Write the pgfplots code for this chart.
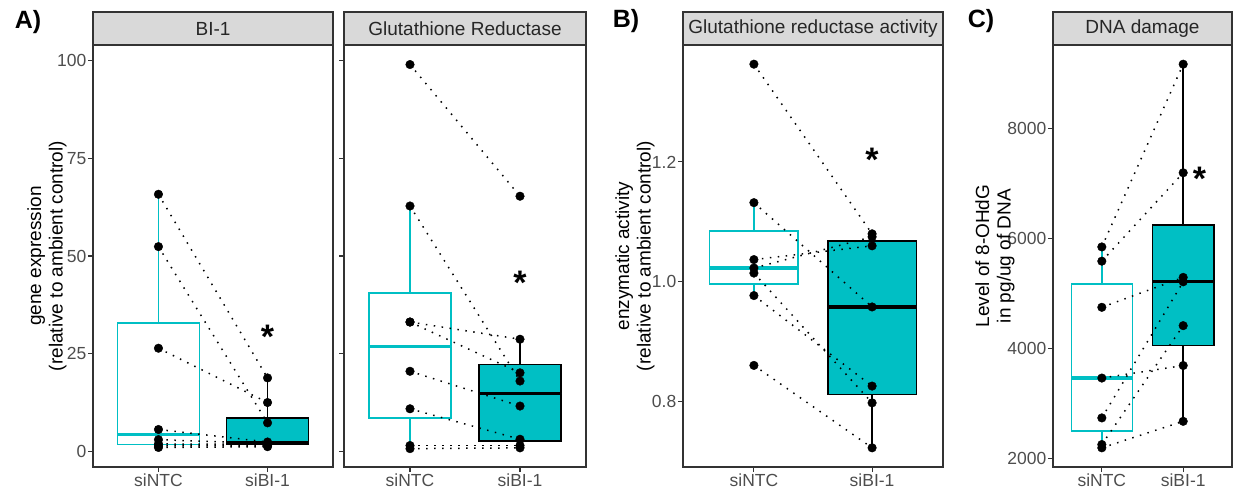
\documentclass[border=0pt]{standalone}
\usepackage{fontspec}
\setmainfont{Liberation Sans}
\usepackage{pgfplots}
\pgfplotsset{compat=1.18}
\usepgfplotslibrary{statistics}
\definecolor{cy}{HTML}{00BFC4}
\definecolor{g20}{HTML}{333333}
\definecolor{g30}{HTML}{4D4D4D}
\definecolor{g85}{HTML}{D9D9D9}
\newcommand{\tfont}{\fontsize{17.5}{17.5}\selectfont}
\newcommand{\sfont}{\fontsize{19}{19}\selectfont}
\newcommand{\lfont}{\fontsize{19}{21.5}\selectfont}
\newcommand{\afont}{\fontsize{34}{34}\selectfont\bfseries}
\pgfplotsset{
 myax/.style={
  scale only axis,
  xmin=0.4, xmax=2.6,
  xtick={1,2}, xticklabels={siNTC,siBI-1},
  axis line style={g20, line width=1.1pt},
  major tick style={g20, line width=1.1pt},
  major tick length=5pt,
  tick align=outside,
  xtick pos=bottom, ytick pos=left,
  ticklabel style={font=\tfont, text=g30},
  yticklabel style={inner sep=1.5pt},
  xticklabel style={inner sep=2pt},
  /pgf/number format/assume math mode=true,
  clip=false,
  height=422pt,
 },
 ntc/.style={boxplot/draw direction=y, draw=cy, fill=white, line width=1.6pt,
   boxplot/every median/.style={line width=3.4pt}},
 sbi/.style={boxplot/draw direction=y, draw=black, fill=cy, line width=1.6pt,
   boxplot/every median/.style={line width=3.4pt}},
 pair/.style={black, line width=1.5pt, dash pattern=on 1.5pt off 6.5pt},
 pts/.style={only marks, mark=*, mark size=4.3pt, black},
}
% pos, lw, q1, med, q3, uw, style
\newcommand{\bx}[7]{\addplot[#7, boxplot prepared={draw position=#1, lower whisker=#2, lower quartile=#3, median=#4, upper quartile=#5, upper whisker=#6, box extend=0.75, whisker extend=0}] coordinates {};}
\newcommand{\pr}[2]{\addplot[pair] coordinates {(1,#1) (2,#2)};}
\newcommand{\strip}[2]{\draw[fill=g85, draw=g20, line width=1.1pt] (#1.north west) rectangle ([yshift=33pt]#1.north east);
 \node[font=\sfont, text=black!85] at ([yshift=16.5pt]#1.north) {#2};}
\begin{document}
\begin{tikzpicture}
\useasboundingbox (0pt,0pt) rectangle (1238pt,496pt);
% ---------------- A1 BI-1
\begin{axis}[myax, name=A1, at={(93pt,29pt)}, anchor=south west, width=240pt,
  ymin=-4, ymax=104, ytick={0,25,50,75,100}]
\bx{1}{1.0}{1.78}{4.3}{32.9}{65.8}{ntc}
\bx{2}{1.2}{1.73}{2.2}{8.6}{18.8}{sbi}
\pr{65.8}{18.8}\pr{52.4}{7.3}\pr{26.4}{12.5}\pr{5.6}{2.4}
\pr{3.0}{2.0}\pr{1.9}{1.8}\pr{1.4}{1.5}\pr{1.0}{1.2}
\addplot[pts] coordinates {(1,65.8)(1,52.4)(1,26.4)(1,5.6)(1,3.0)(1,1.9)(1,1.4)(1,1.0)
 (2,18.8)(2,7.3)(2,12.5)(2,2.4)(2,2.0)(2,1.8)(2,1.5)(2,1.2)};
\node[anchor=north, font=\afont, inner sep=0pt] at (axis cs:2,32.3) {*};
\end{axis}
\strip{A1}{BI-1}
% ---------------- A2 GR
\begin{axis}[myax, name=A2, at={(344pt,29pt)}, anchor=south west, width=242pt,
  ymin=-4, ymax=104, ytick={0,25,50,75,100}, yticklabels={}]
\bx{1}{0.7}{8.55}{26.8}{40.5}{62.8}{ntc}
\bx{2}{0.9}{2.7}{14.8}{22.25}{28.7}{sbi}
\pr{99.0}{65.3}\pr{62.8}{18.0}\pr{33.1}{28.7}\pr{33.1}{20.1}
\pr{20.5}{11.6}\pr{10.9}{3.1}\pr{1.5}{1.5}\pr{0.7}{0.9}
\addplot[pts] coordinates {(1,99.0)(1,62.8)(1,33.1)(1,33.1)(1,20.5)(1,10.9)(1,1.5)(1,0.7)
 (2,65.3)(2,18.0)(2,28.7)(2,20.1)(2,11.6)(2,3.1)(2,1.5)(2,0.9)};
\node[anchor=north, font=\afont, inner sep=0pt] at (axis cs:2,46.1) {*};
\end{axis}
\strip{A2}{Glutathione Reductase}
% ---------------- B
\begin{axis}[myax, name=B, at={(683pt,29pt)}, anchor=south west, width=260pt,
  ymin=0.691, ymax=1.395, ytick={0.8,1.0,1.2},
  yticklabel style={/pgf/number format/.cd, fixed, fixed zerofill, precision=1}]
\bx{1}{0.977}{0.996}{1.023}{1.0845}{1.132}{ntc}
\bx{2}{0.723}{0.812}{0.958}{1.068}{1.08}{sbi}
\pr{1.363}{1.08}\pr{1.132}{0.958}\pr{1.037}{1.06}\pr{1.023}{1.075}
\pr{1.0145}{0.798}\pr{0.977}{0.826}\pr{0.8605}{0.723}
\addplot[pts] coordinates {(1,1.363)(1,1.132)(1,1.037)(1,1.023)(1,1.0145)(1,0.977)(1,0.8605)
 (2,1.08)(2,0.958)(2,1.06)(2,1.075)(2,0.798)(2,0.826)(2,0.723)};
\node[anchor=north, font=\afont, inner sep=0pt] at (axis cs:2,1.2235) {*};
\end{axis}
\strip{B}{Glutathione reductase activity}
% ---------------- C
\begin{axis}[myax, name=C, at={(1053pt,29pt)}, anchor=south west, width=179pt,
  ymin=1845, ymax=9521, ytick={2000,4000,6000,8000},
  yticklabel style={/pgf/number format/.cd, fixed, set thousands separator={}}]
\bx{1}{2194}{2496}{3463}{5170}{5848}{ntc}
\bx{2}{2676}{4053}{5214}{6245}{9172}{sbi}
\pr{5848}{9172}\pr{5589}{7197}\pr{4750}{5294}\pr{3463}{3691}
\pr{2738}{5214}\pr{2254}{4416}\pr{2194}{2676}
\addplot[pts] coordinates {(1,5848)(1,5589)(1,4750)(1,3463)(1,2738)(1,2254)(1,2194)
 (2,9172)(2,7197)(2,5294)(2,3691)(2,5214)(2,4416)(2,2676)};
\node[anchor=north, font=\afont, inner sep=0pt] at (axis cs:2.2,7300) {*};
\end{axis}
\strip{C}{DNA damage}
% ---------------- labels
\node[rotate=90, align=center, font=\lfont] at (47pt,240pt) {gene expression\\(relative to ambient control)};
\node[rotate=90, align=center, font=\lfont] at (635pt,240pt) {enzymatic activity\\(relative to ambient control)};
\node[rotate=90, align=center, font=\lfont] at (995pt,240pt) {Level of 8-OHdG\\in pg/ug of DNA};
\node[font=\fontsize{25}{25}\selectfont\bfseries] at (28pt,474pt) {A)};
\node[font=\fontsize{25}{25}\selectfont\bfseries] at (626pt,475pt) {B)};
\node[font=\fontsize{25}{25}\selectfont\bfseries] at (981pt,475pt) {C)};
\end{tikzpicture}
\end{document}
